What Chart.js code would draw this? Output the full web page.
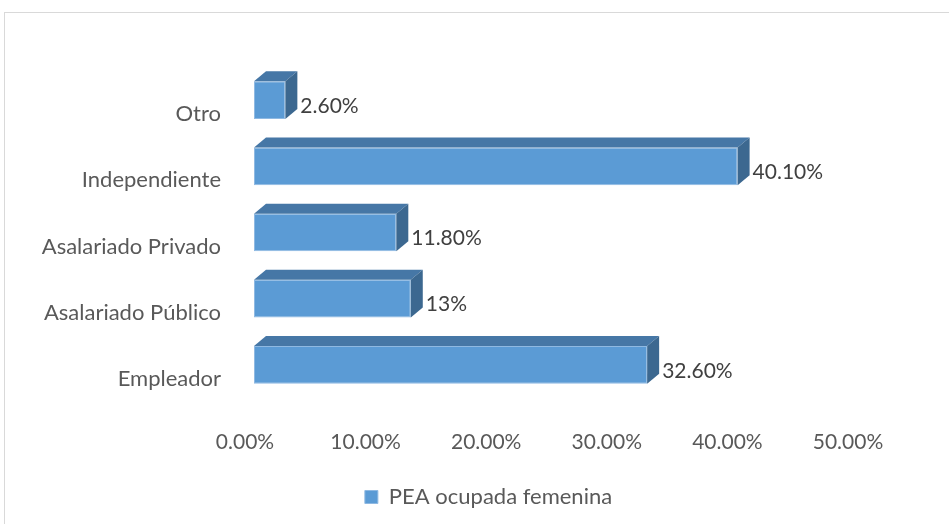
<!DOCTYPE html>
<html lang="es">
<head>
    <meta charset="UTF-8">
    <title>PEA ocupada femenina</title>
    <script src="https://cdn.jsdelivr.net/npm/chart.js"></script>
    <style>
        html, body { margin: 0; padding: 0; background: #fff; overflow: hidden; }
        #wrap { position: relative; width: 949px; height: 524px; }
        #frame { position: absolute; left: 4px; top: 12px; width: 980px; height: 560px; border: 1px solid #d9d9d9; }
        canvas { position: absolute; left: 0; top: 0; }
    </style>
</head>
<body>
<div id="wrap">
    <div id="frame"></div>
    <canvas id="barChart" width="949" height="524"></canvas>
</div>
<script>
    // categories top to bottom, as in the picture
    const categories = ['Otro', 'Independiente', 'Asalariado Privado', 'Asalariado Público', 'Empleador'];
    const values = [2.6, 40.1, 11.8, 13, 32.6];
    const valueLabels = ['2.60%', '40.10%', '11.80%', '13%', '32.60%'];
    const seriesName = 'PEA ocupada femenina';

    const FONT = 'Lato, "Liberation Sans", sans-serif';
    const DX = 12, DY = 10;

    // draws the top and side faces of each bar and the value labels
    const bars3d = {
        id: 'bars3d',
        afterLayout(chart) {
            // the legend sits right of centre in the original
            chart.legend.left += 60;
            chart.legend.right += 60;
        },
        afterDatasetsDraw(chart) {
            const ctx = chart.ctx;
            const meta = chart.getDatasetMeta(0);
            ctx.save();
            meta.data.forEach((bar, i) => {
                const top = bar.y - bar.height / 2;
                const bottom = bar.y + bar.height / 2;
                ctx.fillStyle = '#4677a6';
                ctx.beginPath();
                ctx.moveTo(bar.base, top);
                ctx.lineTo(bar.base + DX, top - DY);
                ctx.lineTo(bar.x + DX, top - DY);
                ctx.lineTo(bar.x, top);
                ctx.closePath();
                ctx.fill();
                ctx.fillStyle = '#3c6890';
                ctx.beginPath();
                ctx.moveTo(bar.x, top);
                ctx.lineTo(bar.x + DX, top - DY);
                ctx.lineTo(bar.x + DX, bottom - DY);
                ctx.lineTo(bar.x, bottom);
                ctx.closePath();
                ctx.fill();

                ctx.fillStyle = '#404040';
                ctx.font = '21px ' + FONT;
                ctx.textAlign = 'left';
                ctx.textBaseline = 'middle';
                ctx.fillText(valueLabels[i], bar.x + 15, bar.y + 6);
            });
            ctx.restore();
        }
    };

    new Chart(document.getElementById('barChart'), {
        type: 'bar',
        data: {
            labels: categories,
            datasets: [{
                label: seriesName,
                data: values,
                backgroundColor: '#5b9bd5',
                borderColor: '#8fb9e2',
                borderWidth: 1,
                borderSkipped: false,
                categoryPercentage: 1,
                barPercentage: 0.57
            }]
        },
        options: {
            indexAxis: 'y',
            responsive: false,
            animation: false,
            layout: { padding: { top: 67, right: 92, bottom: 6, left: 0 } },
            plugins: {
                tooltip: { enabled: false },
                legend: {
                    position: 'bottom',
                    labels: {
                        boxWidth: 13,
                        boxHeight: 13,
                        color: '#595959',
                        font: { family: FONT, size: 22 },
                        padding: 8
                    }
                }
            },
            scales: {
                x: {
                    min: 0,
                    max: 50,
                    grid: { display: false },
                    border: { display: false },
                    afterFit(scale) { scale.height = 80; },
                    ticks: {
                        stepSize: 10,
                        color: '#595959',
                        font: { family: FONT, size: 21 },
                        padding: 24,
                        labelOffset: -9,
                        callback: v => v.toFixed(2) + '%'
                    }
                },
                y: {
                    grid: { display: false },
                    border: { display: false },
                    afterFit(scale) { scale.width = 254; },
                    ticks: {
                        color: '#595959',
                        font: { family: FONT, size: 22 },
                        padding: 25,
                        labelOffset: 14
                    }
                }
            }
        },
        plugins: [bars3d]
    });
</script>
</body>
</html>
